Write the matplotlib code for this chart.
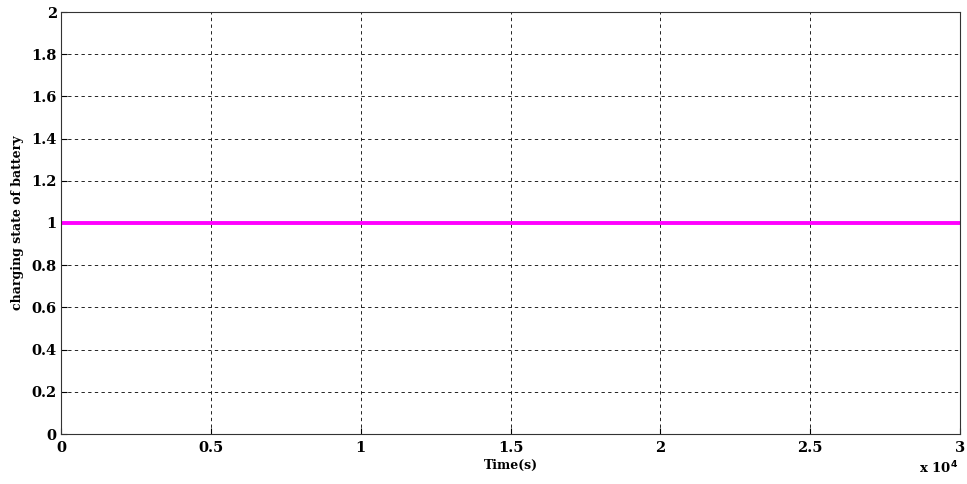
import matplotlib
matplotlib.use("Agg")
import matplotlib.pyplot as plt
import numpy as np

# data
time_s = [0, 30000]
charge_state = [1.0, 1.0]
x_ticks = [0, 5000, 10000, 15000, 20000, 25000, 30000]
x_tick_labels = ["0", "0.5", "1", "1.5", "2", "2.5", "3"]
y_ticks = [0, 0.2, 0.4, 0.6, 0.8, 1.0, 1.2, 1.4, 1.6, 1.8, 2.0]
y_tick_labels = ["0", "0.2", "0.4", "0.6", "0.8", "1", "1.2", "1.4", "1.6", "1.8", "2"]

plt.rcParams["font.family"] = ["DejaVu Serif"]
plt.rcParams["font.weight"] = "bold"

fig = plt.figure(figsize=(9.67, 4.84), dpi=100)
ax = fig.add_axes([61 / 967, 1 - 434 / 484, (960 - 61) / 967, (434 - 12) / 484])

ax.plot(time_s, charge_state, color="#ff00ff", linewidth=2.8)

ax.set_xlim(0, 30000)
ax.set_ylim(0, 2)
ax.set_xticks(x_ticks)
ax.set_xticklabels(x_tick_labels, fontsize=10.5, fontweight="bold")
ax.set_yticks(y_ticks)
ax.set_yticklabels(y_tick_labels, fontsize=10.5, fontweight="bold")
ax.tick_params(direction="in", length=4, width=0.8)
ax.tick_params(axis="x", pad=5)
ax.tick_params(axis="y", pad=3)
ax.grid(True, color="black", linestyle=(0, (4, 4)), linewidth=0.6)
for spine in ax.spines.values():
    spine.set_linewidth(0.8)
    spine.set_color("#333333")

ax.set_xlabel("Time(s)", fontsize=9, fontweight="bold", labelpad=3)
ax.set_ylabel("charging state of battery", fontsize=9, fontweight="bold", labelpad=5)
fig.text(958 / 967, 1 - 468 / 484, r"x 10$^{4}$", ha="right", va="center", fontsize=9.5, fontweight="bold")

fig.savefig("out.png", dpi=100)
